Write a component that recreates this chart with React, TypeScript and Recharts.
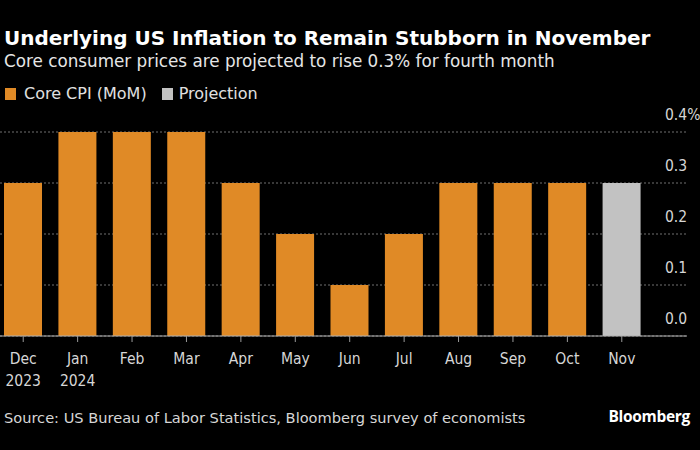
import React from "react";
import { BarChart, Bar, XAxis, YAxis, CartesianGrid } from "recharts";

const months = ["Dec", "Jan", "Feb", "Mar", "Apr", "May", "Jun", "Jul", "Aug", "Sep", "Oct", "Nov"];
const years = ["2023", "2024", "", "", "", "", "", "", "", "", "", ""];
const coreCpi: (number | null)[] = [0.3, 0.4, 0.4, 0.4, 0.3, 0.2, 0.1, 0.2, 0.3, 0.3, 0.3, null];
const projection: (number | null)[] = [null, null, null, null, null, null, null, null, null, null, null, 0.3];
const yTicks = [0, 0.1, 0.2, 0.3, 0.4];

const ORANGE = "#E08A26";
const GRAY = "#C2C2C2";
const FONT = "'DejaVu Sans', sans-serif";
const AXFONT = "'DejaVu Sans Condensed', 'DejaVu Sans', sans-serif";

const data = months.map((m, i) => ({
  month: m,
  year: years[i],
  cpi: coreCpi[i],
  proj: projection[i],
}));

const XTick = (props: any) => {
  const { x, y, payload, index } = props;
  const yr = years[index] ?? "";
  return (
    <g>
      <text x={x} y={y + 20} textAnchor="middle" fill="#d6d6d6" fontSize={15.5} fontFamily={AXFONT}>
        {payload.value}
      </text>
      {yr ? (
        <text x={x} y={y + 42} textAnchor="middle" fill="#d6d6d6" fontSize={15.5} fontFamily={AXFONT}>
          {yr}
        </text>
      ) : null}
    </g>
  );
};

const YTick = (props: any) => {
  const { x, y, payload } = props;
  const v = payload.value as number;
  const label = v === 0.4 ? "0.4%" : v.toFixed(1);
  return (
    <text x={x - 22} y={y - 12} textAnchor="start" fill="#d6d6d6" fontSize={15.5} fontFamily={AXFONT}>
      {label}
    </text>
  );
};

export default function App() {
  return (
    <div
      style={{
        position: "absolute",
        left: 0,
        top: 0,
        width: 700,
        height: 450,
        background: "#000",
        overflow: "hidden",
        fontFamily: FONT,
      }}
    >
      <div style={{ position: "absolute", left: 4, top: 25, color: "#fff", fontSize: 20, fontWeight: "bold", whiteSpace: "nowrap", lineHeight: "26px" }}>
        Underlying US Inflation to Remain Stubborn in November
      </div>
      <div style={{ position: "absolute", left: 4, top: 50, color: "#e6e6e6", fontSize: 16.8, whiteSpace: "nowrap", lineHeight: "22px" }}>
        Core consumer prices are projected to rise 0.3% for fourth month
      </div>
      <div style={{ position: "absolute", left: 5, top: 83, color: "#e0e0e0", fontSize: 16, whiteSpace: "nowrap", lineHeight: "22px", display: "flex", alignItems: "center" }}>
        <span style={{ display: "inline-block", width: 11, height: 12, background: ORANGE, marginRight: 8 }} />
        <span>Core CPI (MoM)</span>
        <span style={{ display: "inline-block", width: 11, height: 12, background: GRAY, marginLeft: 15, marginRight: 6 }} />
        <span>Projection</span>
      </div>
      <div style={{ position: "absolute", top: 0, left: -4 }}>
        <BarChart width={704} height={450} data={data} margin={{ top: 132, right: 13, bottom: 54, left: 0 }}>
          <CartesianGrid vertical={false} stroke="#707070" strokeDasharray="2 2" />
          <XAxis
            dataKey="month"
            interval={0}
            height={60}
            padding={{ left: 0, right: 38 }}
            axisLine={{ stroke: "#b0b0b0" }}
            tickLine={{ stroke: "#9a9a9a" }}
            tickSize={6}
            tick={<XTick />}
          />
          <YAxis
            orientation="right"
            mirror
            width={40}
            domain={[0, 0.4]}
            ticks={yTicks}
            axisLine={false}
            tickLine={false}
            tickSize={0}
            tickMargin={0}
            tick={<YTick />}
            interval={0}
          />
          <Bar dataKey="cpi" stackId="a" fill={ORANGE} barSize={38} isAnimationActive={false} />
          <Bar dataKey="proj" stackId="a" fill={GRAY} barSize={38} isAnimationActive={false} />
        </BarChart>
      </div>
      <div style={{ position: "absolute", left: 4, top: 407, color: "#d6d6d6", fontSize: 14.6, whiteSpace: "nowrap", lineHeight: "22px" }}>
        Source: US Bureau of Labor Statistics, Bloomberg survey of economists
      </div>
      <div style={{ position: "absolute", right: 10, top: 405, color: "#fff", fontSize: 15.5, fontWeight: "bold", whiteSpace: "nowrap", lineHeight: "22px", fontFamily: "'Open Sans', 'DejaVu Sans', sans-serif", letterSpacing: -0.3 }}>
        Bloomberg
      </div>
    </div>
  );
}
